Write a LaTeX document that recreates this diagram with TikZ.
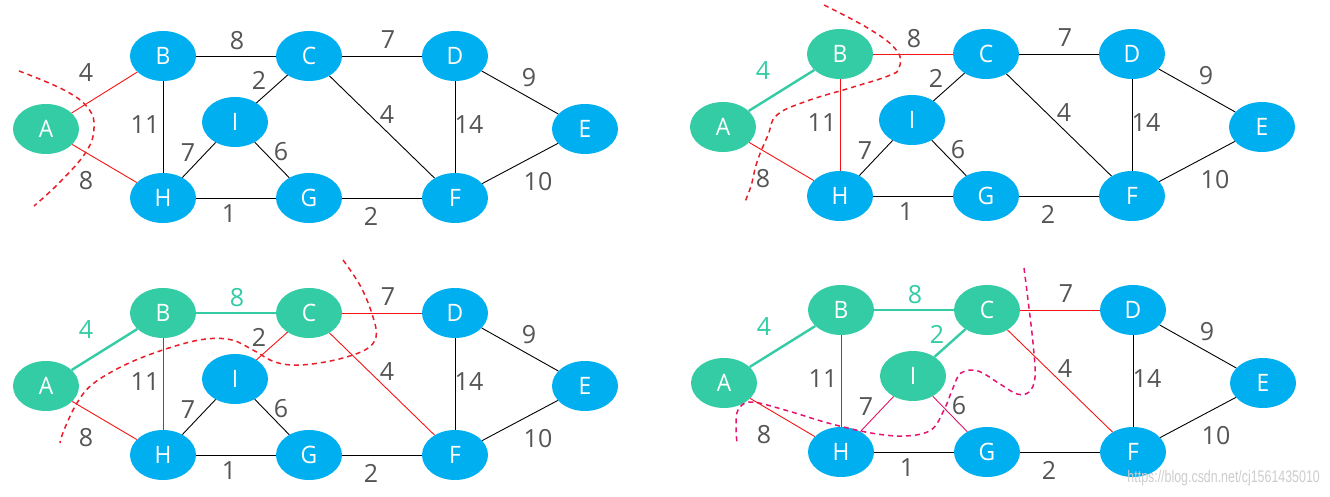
\documentclass[tikz,border=0pt]{standalone}
\usepackage{fontspec}
\setmainfont{Open Sans}[FakeStretch=0.95]
\newfontfamily\labfont{Open Sans}
\newfontfamily\wmfont{Liberation Sans}
\usetikzlibrary{shapes.geometric}
\definecolor{nodeblue}{RGB}{0,175,239}
\definecolor{nodegreen}{RGB}{51,204,165}
\definecolor{labgray}{RGB}{85,85,85}
\definecolor{edgered}{RGB}{245,20,20}
\definecolor{cutred}{RGB}{232,30,40}
\definecolor{edgepink}{RGB}{225,20,100}
\definecolor{cutpink}{RGB}{230,20,110}
\definecolor{wmgray}{RGB}{205,205,205}
\tikzset{
  vtx/.style={ellipse, minimum width=66pt, minimum height=50pt, inner sep=0pt,
    text=white, font=\fontsize{24}{24}\selectfont},
  bnode/.style={vtx, fill=nodeblue},
  gnode/.style={vtx, fill=nodegreen},
  blackE/.style={draw=black, line width=0.9pt},
  redE/.style={draw=edgered, line width=0.9pt},
  greenE/.style={draw=nodegreen, line width=2.4pt},
  pinkE/.style={draw=edgepink, line width=0.9pt},
  wlab/.style={text=labgray, font=\labfont\fontsize{25}{25}\selectfont, inner sep=0pt},
  glab/.style={wlab, text=nodegreen},
  cutline/.style={draw=cutred, dash pattern=on 5pt off 4pt, line width=1.5pt},
  nA/.style=bnode, nB/.style=bnode, nC/.style=bnode, nD/.style=bnode, nE/.style=bnode,
  nF/.style=bnode, nG/.style=bnode, nH/.style=bnode, nI/.style=bnode,
  eAB/.style=blackE, eAH/.style=blackE, eBC/.style=blackE, eBH/.style=blackE,
  eCD/.style=blackE, eCI/.style=blackE, eCF/.style=blackE, eDE/.style=blackE,
  eDF/.style=blackE, eEF/.style=blackE, eHI/.style=blackE, eHG/.style=blackE,
  eIG/.style=blackE, eGF/.style=blackE,
  lAB/.style=wlab, lAH/.style=wlab, lBC/.style=wlab, lBH/.style=wlab,
  lCD/.style=wlab, lCI/.style=wlab, lCF/.style=wlab, lDE/.style=wlab,
  lDF/.style=wlab, lEF/.style=wlab, lHI/.style=wlab, lHG/.style=wlab,
  lIG/.style=wlab, lGF/.style=wlab
}
\newcommand\graphpanel[1]{%
  \node[nA] (#1A) at (0,0) {A};
  \node[nB] (#1B) at (117,-73) {B};
  \node[nC] (#1C) at (263,-73) {C};
  \node[nD] (#1D) at (409,-73) {D};
  \node[nE] (#1E) at (539,0) {E};
  \node[nI] (#1I) at (189,-7) {I};
  \node[nH] (#1H) at (117,69) {H};
  \node[nG] (#1G) at (263,69) {G};
  \node[nF] (#1F) at (409,69) {F};
  \path[eAB] (#1A) -- (#1B);
  \path[eAH] (#1A) -- (#1H);
  \path[eBC] (#1B) -- (#1C);
  \path[eBH] (#1B) -- (#1H);
  \path[eCD] (#1C) -- (#1D);
  \path[eCI] (#1C) -- (#1I);
  \path[eCF] (#1C) -- (#1F);
  \path[eDE] (#1D) -- (#1E);
  \path[eDF] (#1D) -- (#1F);
  \path[eEF] (#1E) -- (#1F);
  \path[eHI] (#1H) -- (#1I);
  \path[eHG] (#1H) -- (#1G);
  \path[eIG] (#1I) -- (#1G);
  \path[eGF] (#1G) -- (#1F);
  \node[lAB] (#1lAB) at (40,-56) {4};
  \node[lAH] (#1lAH) at (40,52) {8};
  \node[lBC] (#1lBC) at (191,-88) {8};
  \node[lCD] (#1lCD) at (342,-89) {7};
  \node[lCI] (#1lCI) at (213,-49) {2};
  \node[lBH] (#1lBH) at (99,-4) {11};
  \node[lHI] (#1lHI) at (142,24) {7};
  \node[lIG] (#1lIG) at (235,23) {6};
  \node[lCF] (#1lCF) at (341,-14) {4};
  \node[lDF] (#1lDF) at (423,-4) {14};
  \node[lDE] (#1lDE) at (483,-51) {9};
  \node[lEF] (#1lEF) at (492,53) {10};
  \node[lHG] (#1lHG) at (183,85) {1};
  \node[lGF] (#1lGF) at (325,87) {2};
}
\begin{document}
\begin{tikzpicture}[x=1pt, y=-1pt]
  \fill[white] (0,0) rectangle (1330,497);
  \useasboundingbox (0,0) rectangle (1330,497);
  % panel 1
  \begin{scope}[shift={(46,129)}, nA/.style=gnode, eAB/.style=redE, eAH/.style=redE]
    \graphpanel{p}
  \end{scope}
  \path[cutline] plot[smooth, tension=0.7] coordinates {(19,71) (64,90) (88,108) (94,128) (86,152) (60,182) (34,206)};
  % panel 2
  \begin{scope}[shift={(723,127)}, nA/.style=gnode, nB/.style=gnode,
      eAB/.style=greenE, lAB/.style=glab, eAH/.style=redE, eBC/.style=redE, eBH/.style=redE]
    \graphpanel{q}
  \end{scope}
  \path[cutline] plot[smooth, tension=0.7] coordinates {(824,5) (871,30) (897,51) (899,68) (888,76) (850,88) (807,101) (777,115) (768,135) (757,162) (751,186) (744,204)};
  % panel 3
  \begin{scope}[shift={(46,386)}, nA/.style=gnode, nB/.style=gnode, nC/.style=gnode,
      eAB/.style=greenE, eBC/.style=greenE, lAB/.style=glab, lBC/.style=glab,
      eAH/.style=redE, eBH/.style=redE, eCI/.style=redE, eCD/.style=redE, eCF/.style=redE]
    \graphpanel{r}
  \end{scope}
  \path[cutline] plot[smooth, tension=0.6] coordinates {(343,260) (361,287) (373,317) (376,337) (365,350) (335,360) (300,365) (275,362) (253,350) (232,340) (206,339) (172,347) (129,363) (94,383) (77,403) (64,430) (60,443)};
  % panel 4
  \begin{scope}[shift={(724,383)}, nA/.style=gnode, nB/.style=gnode, nC/.style=gnode, nI/.style=gnode,
      eAB/.style=greenE, eBC/.style=greenE, eCI/.style=greenE,
      lAB/.style=glab, lBC/.style=glab, lCI/.style=glab,
      eAH/.style=redE, eBH/.style=redE, eCD/.style=redE, eCF/.style=redE,
      eHI/.style=pinkE, eIG/.style=pinkE]
    \graphpanel{s}
  \end{scope}
  \path[cutline, draw=cutpink] plot[smooth, tension=0.6] coordinates {(1024,268) (1028,300) (1033,343) (1035,377) (1029,392) (1017,394) (1000,384) (978,371) (961,373) (953,388) (944,410) (931,430) (905,436) (871,433) (828,423) (785,410) (751,402) (738,410) (736,427) (737,443)};
  % watermark text
  \node[text=wmgray, font=\wmfont\fontsize{12.4}{12.4}\selectfont, inner sep=0pt, anchor=east, yscale=1.35, transform shape] (wm) at (1320,478) {https://blog.csdn.net/cj1561435010};
\end{tikzpicture}
\end{document}
